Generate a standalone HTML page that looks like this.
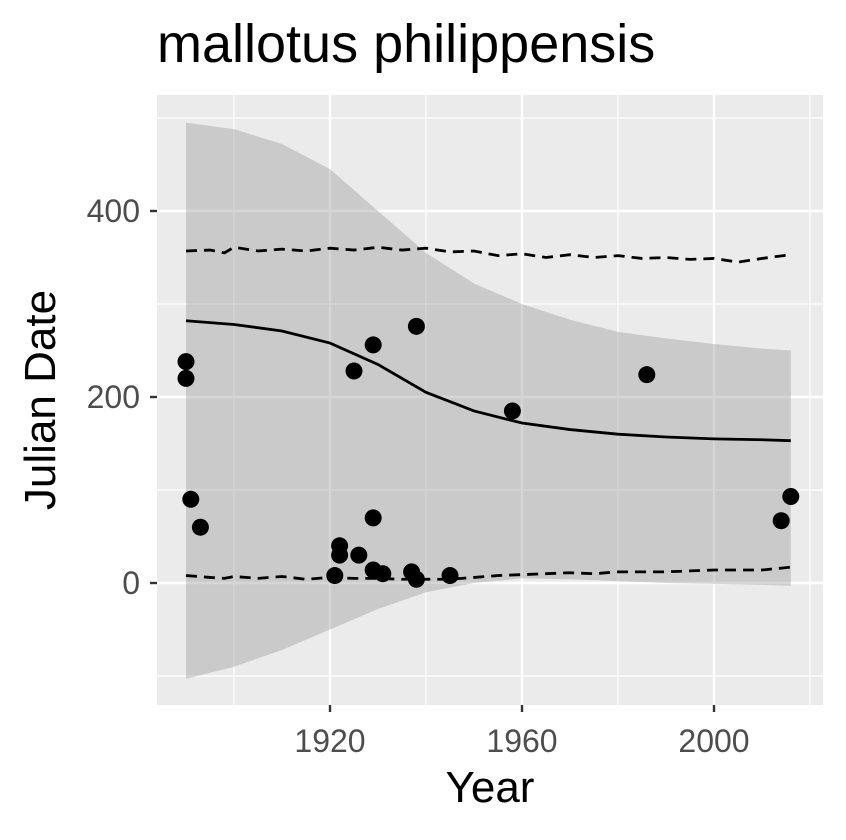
<!DOCTYPE html>
<html><head><meta charset="utf-8"><style>
body{margin:0;background:#fff;}
svg text{font-family:"Liberation Sans",Arial,sans-serif;}
</style></head><body>
<svg width="846" height="835" viewBox="0 0 846 835">
<text x="157" y="62" font-size="54" fill="#000">mallotus philippensis</text>
<rect x="157" y="95" width="666" height="610" fill="#ebebeb"/>
<g id="grid"></g>
<g id="marks"></g>
<g id="axes"></g>
<text x="490" y="802" font-size="44" text-anchor="middle" fill="#000">Year</text>
<text transform="translate(55,400) rotate(-90)" font-size="44" text-anchor="middle" fill="#000">Julian Date</text>
</svg>
<script>
const pointYears=[1890,1890,1891,1893,1921,1922,1922,1925,1926,1929,1929,1929,1931,1937,1938,1938,1945,1958,1986,2014,2016];
const pointValues=[238,220,90,60,8,40,30,228,30,256,70,14,10,12,4,276,8,185,224,67,93];
const curveYears=[1890,1900,1910,1920,1930,1940,1950,1960,1970,1980,1990,2000,2010,2016];
const fitValues=[282,278,271,258,235,205,185,172,165,160,157,155,154,153];
const upperBand=[495,488,472,445,400,355,322,300,283,270,263,257,252,250];
const lowerBand=[-103,-90,-72,-50,-28,-10,0,5,4,2,0,-1,-2,-3];
const dashYears=[1890,1895,1898,1900,1905,1910,1915,1920,1925,1930,1935,1940,1945,1950,1955,1960,1965,1970,1975,1980,1985,1990,1995,2000,2005,2010,2016];
const dashUpper=[357,358,355,361,357,359,357,360,358,361,358,360,356,357,352,354,350,353,350,352,349,350,348,349,345,349,353];
const dashLower=[8,6,5,7,5,7,4,6,5,5,4,4,4,6,8,9,10,11,10,12,12,12,13,14,14,14,17];
const xTicks=[1920,1960,2000];
const yTicks=[0,200,400];
const xMinor=[1900,1940,1980,2020];
const yMinor=[-100,100,300,500];
const X=y=>330+(y-1920)*4.8;
const Y=v=>583-v*0.93;
const NS="http://www.w3.org/2000/svg";
function mk(parent,tag,attrs){const e=document.createElementNS(NS,tag);for(const k in attrs)e.setAttribute(k,attrs[k]);document.getElementById(parent).appendChild(e);return e;}
xMinor.forEach(t=>{const e=mk('grid','line',{x1:X(t),x2:X(t),y1:95,y2:705,stroke:'#fff','stroke-width':1.2});

});
yMinor.forEach(t=>{const e=mk('grid','line',{x1:157,x2:823,y1:Y(t),y2:Y(t),stroke:'#fff','stroke-width':1.2});

});
xTicks.forEach(t=>{const e=mk('grid','line',{x1:X(t),x2:X(t),y1:95,y2:705,stroke:'#fff','stroke-width':2.4});


const k=mk('axes','line',{x1:X(t),x2:X(t),y1:705,y2:712,stroke:'#333','stroke-width':2.4});


const l=mk('axes','text',{x:X(t),y:752,'font-size':32,'text-anchor':'middle',fill:'#4d4d4d'});l.textContent=t;

});
yTicks.forEach(t=>{const e=mk('grid','line',{x1:157,x2:823,y1:Y(t),y2:Y(t),stroke:'#fff','stroke-width':2.4});


const k=mk('axes','line',{x1:150,x2:157,y1:Y(t),y2:Y(t),stroke:'#333','stroke-width':2.4});


const l=mk('axes','text',{x:140,y:Y(t)+11,'font-size':32,'text-anchor':'end',fill:'#4d4d4d'});l.textContent=t;

});
let d='';curveYears.forEach((y,i)=>d+=(i?'L':'M')+X(y)+','+Y(upperBand[i]));
for(let i=curveYears.length-1;i>=0;i--)d+='L'+X(curveYears[i])+','+Y(lowerBand[i]);
const band=mk('marks','path',{d:d+'Z',fill:'#999','fill-opacity':0.4});


function line(xs,vs,dash,name){const p=mk('marks','path',{d:xs.map((y,i)=>(i?'L':'M')+X(y)+','+Y(vs[i])).join(''),fill:'none',stroke:'#000','stroke-width':2.8,'stroke-dasharray':dash});

}
line(dashYears,dashUpper,'11,7','upper-dashed-line');
line(dashYears,dashLower,'11,7','lower-dashed-line');
line(curveYears,fitValues,'none','fit-line');
pointYears.forEach((y,i)=>{const c=mk('marks','circle',{cx:X(y),cy:Y(pointValues[i]),r:8.5,fill:'#000'});

});
</script>
</body></html>
